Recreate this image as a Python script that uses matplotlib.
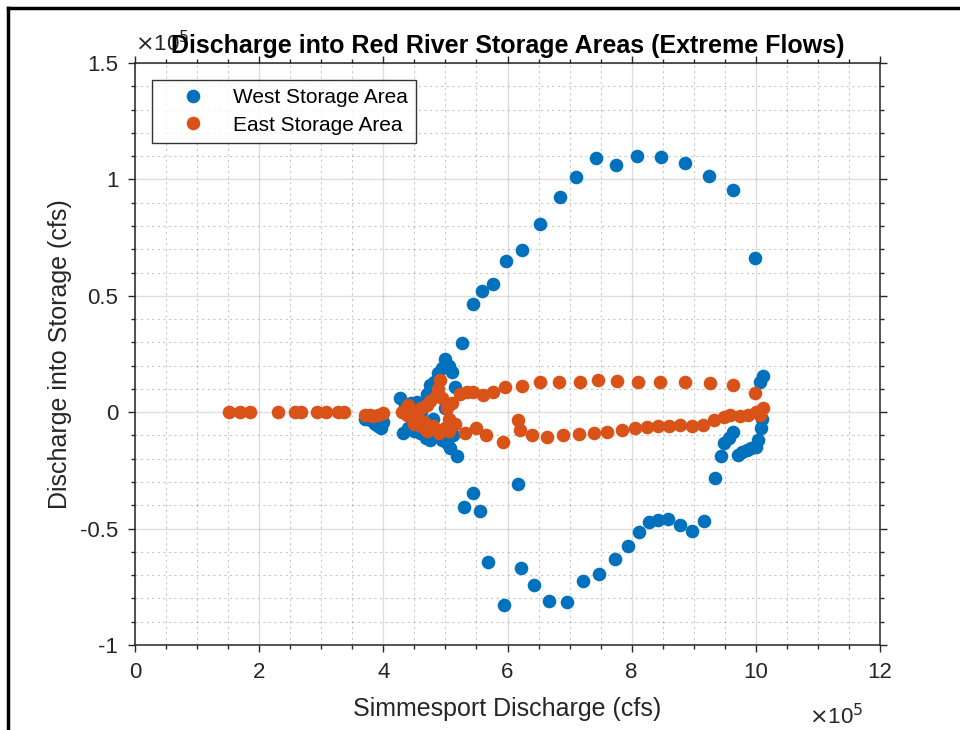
import numpy as np
import matplotlib.pyplot as plt
from matplotlib.lines import Line2D
from matplotlib.ticker import MultipleLocator

# values in units of 1e5 cfs
west_x = [3.70, 3.78, 3.86, 3.92, 3.97, 4.00,
          4.27, 4.35, 4.45, 4.54, 4.62, 4.70, 4.75, 4.82, 4.88, 4.94, 4.99, 5.05, 5.10, 5.16, 5.26,
          4.32, 4.40, 4.50, 4.59, 4.68, 4.75, 4.85, 4.95, 5.02, 5.07, 5.12, 5.18, 4.60, 4.80, 5.00,
          5.44, 5.59, 5.76, 5.98, 6.23, 6.52, 6.85, 7.11, 7.43, 7.74, 8.08, 8.47, 8.86, 9.25, 9.64, 9.99,
          5.45, 5.30, 5.55, 6.17, 5.69, 5.94, 6.21, 6.42, 6.67, 6.96, 7.22, 7.48, 7.73, 7.94, 8.12, 8.28,
          8.43, 8.59, 8.78, 8.97, 9.17, 9.34, 9.44,
          9.48, 9.56, 9.64, 9.72, 9.78, 9.85, 9.93, 10.01, 10.04, 10.09, 10.10, 10.05, 10.07, 10.12]
west_y = [-0.030, -0.035, -0.050, -0.060, -0.069, -0.040,
          0.060, 0.030, 0.040, 0.045, 0.030, 0.080, 0.117, 0.130, 0.170, 0.190, 0.230, 0.200, 0.174, 0.110, 0.297,
          -0.090, -0.070, -0.080, -0.090, -0.110, -0.120, -0.100, -0.120, -0.134, -0.155, -0.100, -0.190, 0.000, -0.030, 0.020,
          0.465, 0.520, 0.550, 0.650, 0.697, 0.810, 0.925, 1.010, 1.090, 1.060, 1.100, 1.098, 1.070, 1.015, 0.955, 0.662,
          -0.348, -0.406, -0.423, -0.308, -0.645, -0.827, -0.670, -0.744, -0.811, -0.817, -0.724, -0.696, -0.630, -0.573, -0.515, -0.473,
          -0.463, -0.459, -0.484, -0.510, -0.469, -0.284, -0.188,
          -0.134, -0.112, -0.084, -0.184, -0.172, -0.162, -0.155, -0.148, -0.120, -0.070, -0.030, 0.000, 0.130, 0.155]

east_x = [1.52, 1.69, 1.86, 2.31, 2.57, 2.68, 2.93, 3.08, 3.27, 3.36,
          3.70, 3.78, 3.84, 3.92, 4.00,
          4.30, 4.38, 4.40, 4.45, 4.50, 4.50, 4.55, 4.60, 4.60, 4.65, 4.70, 4.70, 4.75, 4.80, 4.85, 4.88,
          4.91, 4.95, 4.90, 5.00, 5.02, 5.05, 5.05, 5.10, 5.15,
          5.24, 5.35, 5.45, 5.61, 5.77, 5.96, 6.23, 6.52, 6.83, 7.16, 7.45, 7.77, 8.10, 8.46, 8.86, 9.26, 9.64, 9.99,
          5.31, 5.50, 5.66, 5.93, 6.17, 6.20, 6.39, 6.63, 6.90, 7.15, 7.40, 7.60, 7.85, 8.05, 8.25, 8.42, 8.60,
          8.78, 8.97, 9.15, 9.32, 9.48, 9.58, 9.75, 9.88, 10.01, 10.07, 10.12]
east_y = [0.0, 0.0, 0.0, 0.0, 0.0, 0.0, 0.0, 0.0, 0.0, 0.0,
          -0.010, -0.010, -0.015, -0.010, -0.005,
          0.000, -0.010, 0.030, 0.010, 0.000, -0.050, -0.020, 0.020, -0.060, -0.040, 0.030, -0.080, 0.050, -0.060, 0.070, 0.100,
          0.138, 0.060, -0.090, -0.070, 0.020, -0.030, -0.080, 0.040, -0.050,
          0.080, 0.085, 0.088, 0.074, 0.088, 0.110, 0.113, 0.131, 0.130, 0.130, 0.140, 0.135, 0.130, 0.130, 0.131, 0.124, 0.117, 0.081,
          -0.090, -0.069, -0.098, -0.127, -0.034, -0.076, -0.098, -0.105, -0.100, -0.093, -0.090, -0.085, -0.075, -0.068, -0.062, -0.060, -0.060,
          -0.055, -0.059, -0.055, -0.034, -0.019, -0.012, -0.016, -0.012, 0.000, -0.010, 0.016]

blue = "#0072BD"
orange = "#D95319"
dark = "#262626"

plt.rcParams['font.family'] = ['Liberation Sans', 'DejaVu Sans']

fig = plt.figure(figsize=(9.6, 7.3), dpi=100)
ax = fig.add_axes([135/960, 1 - 645/730, 745/960, 582/730])

ax.plot(west_x, west_y, 'o', color=blue, markersize=9.8, markeredgewidth=0, label="West Storage Area")
ax.plot(east_x, east_y, 'o', color=orange, markersize=9.8, markeredgewidth=0, label="East Storage Area")

ax.set_xlim(0, 12)
ax.set_ylim(-1, 1.5)
ax.xaxis.set_major_locator(MultipleLocator(2))
ax.xaxis.set_minor_locator(MultipleLocator(0.5))
ax.yaxis.set_major_locator(MultipleLocator(0.5))
ax.yaxis.set_minor_locator(MultipleLocator(0.1))
ax.set_xticklabels([f"{v:g}" for v in ax.get_xticks()])
ax.set_yticklabels([f"{v:g}" for v in ax.get_yticks()])

ax.grid(True, which='major', color=dark, alpha=0.15, linewidth=1)
ax.grid(True, which='minor', color=dark, alpha=0.25, linewidth=0.8, linestyle=(0, (2, 3)))
ax.set_axisbelow(True)

ax.tick_params(which='both', direction='out', top=True, right=True, color=dark,
               labelcolor=dark, labelsize=16, width=1)
ax.tick_params(which='major', length=5, pad=7)
ax.tick_params(which='minor', length=3)
for s in ax.spines.values():
    s.set_color(dark)
    s.set_linewidth(1.1)

ax.set_xlabel("Simmesport Discharge (cfs)", fontsize=18, color=dark, labelpad=10)
ax.set_ylabel("Discharge into Storage (cfs)", fontsize=18, color=dark, labelpad=6)

# exponent labels (the top one sits under the title, as in the original)
ax.text(0.0, 1.012, r"$\times$10$^5$", transform=ax.transAxes, fontsize=16, color=dark,
        ha='left', va='bottom')
ax.text(0.978, -0.102, r"$\times$10$^5$", transform=ax.transAxes, fontsize=16, color=dark,
        ha='right', va='top')
ax.set_title("Discharge into Red River Storage Areas (Extreme Flows)", fontsize=18,
             fontweight='bold', color='black', pad=7)

leg = ax.legend(loc='upper left', bbox_to_anchor=(17/745, 1 - 17/582), borderaxespad=0,
                fancybox=False, edgecolor='black', fontsize=15, handletextpad=0.4,
                borderpad=0.4, labelspacing=0.4, handlelength=3.1)
leg.get_frame().set_linewidth(1)

# screenshot frame
fig.add_artist(Line2D([8/960, 8/960], [0, 1 - 8/730], transform=fig.transFigure, color='black', lw=2.5))
fig.add_artist(Line2D([8/960, 1], [1 - 8/730, 1 - 8/730], transform=fig.transFigure, color='black', lw=2.5))

plt.savefig("out.png", dpi=100)
